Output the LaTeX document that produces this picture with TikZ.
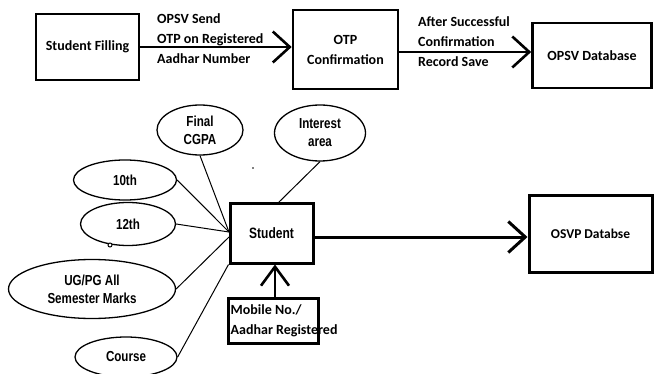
\documentclass[tikz,border=0pt]{standalone}
\usepackage{fontspec}
\setmainfont{Carlito}
\newfontfamily\narrowfont[FakeStretch=0.8]{Liberation Sans}
\usetikzlibrary{arrows.meta,shapes.geometric}

\begin{document}
\begin{tikzpicture}[x=1pt,y=-1pt]
\tikzset{flowbox/.style={draw,line width=2.6pt,minimum width=#1,inner sep=0pt}}
\tikzset{attr/.style={ellipse,draw,line width=1.3pt,inner sep=0pt,align=center,font=\narrowfont\bfseries\fontsize{14.5}{18}\selectfont}}
\tikzset{steptext/.style={anchor=west,align=left,inner sep=0pt,font=\bfseries\fontsize{14}{20}\selectfont}}
\tikzset{flow/.style={line width=2.6pt,-{Straight Barb[length=17pt,width=31pt]}}}
\tikzset{link/.style={line width=1pt}}

\useasboundingbox (0,0) rectangle (655,374);

\node[flowbox=103pt,minimum height=66pt,font=\bfseries\fontsize{14}{20}\selectfont] (filling) at (87.5,47) {Student Filling};
\node[flowbox=105pt,minimum height=79pt,align=center,font=\bfseries\fontsize{14}{20}\selectfont] (otp) at (345.5,49.5) {OTP\\Confirmation};
\node[flowbox=119pt,minimum height=65pt,font=\bfseries\fontsize{14}{20}\selectfont] (opsvdb) at (592,55.5) {OPSV Database\hspace{16pt}};

\node[steptext] (sendlabel) at (157,39) {OPSV Send\\OTP on Registered\\Aadhar Number};
\node[steptext] (savelabel) at (418,42) {After Successful\\Confirmation\\Record Save};

\draw[flow] (filling.east) -- (filling.east -| otp.west);
\draw[flow] ([yshift=-2.5pt]otp.east) -- ([yshift=-2.5pt]otp.east -| opsvdb.west);

\node[attr,minimum width=86pt,minimum height=50pt] (cgpa) at (200,130) {Final\\CGPA};
\node[attr,minimum width=91pt,minimum height=56pt] (interest) at (320,133) {Interest\\area};
\node[attr,minimum width=103pt,minimum height=40pt] (tenth) at (125,180) {10th};
\node[attr,minimum width=95pt,minimum height=43pt] (twelfth) at (128,224) {12th};
\node[attr,minimum width=167pt,minimum height=59pt] (ugpg) at (92,289) {UG/PG All\\Semester Marks};
\node[attr,minimum width=102pt,minimum height=40pt] (course) at (126,357) {Course};

\node[flowbox=83pt,minimum height=60pt,line width=3pt,font=\narrowfont\bfseries\fontsize{15}{18}\selectfont] (student) at (271.5,233) {Student};
\node[flowbox=123pt,minimum height=77pt,line width=3pt,font=\bfseries\fontsize{13.5}{17}\selectfont] (osvpdb) at (590.5,233.5) {OSVP Databse\hspace{22pt}};
\node[flowbox=90pt,minimum height=45pt,line width=3pt] (mobile) at (273,320.5) {};
\node[steptext] (mobiletext) at ([xshift=4pt]mobile.west) {Mobile No./\\Aadhar Registered};

\coordinate (hub) at (229,232);
\draw[link] (cgpa.south) -- (hub);
\draw[link] (tenth.east) -- (hub);
\draw[link] (twelfth.east) -- (hub);
\draw[link] (ugpg.east) -- ([yshift=-5pt]hub);
\draw[link] (course.east) -- (student.south west);
\draw[link] (interest.south) -- (278,203);

\draw[line width=1pt,fill=white] (110,245) circle (2pt);
\fill (253,168) circle (0.9pt);

\draw[flow,line width=3pt] ([yshift=-4pt]student.east) -- ([yshift=-4pt]student.east -| osvpdb.west);
\draw[flow,-{Straight Barb[length=19pt,width=28pt]}] ([xshift=2pt]mobile.north) -- ([xshift=2pt]mobile.north |- student.south);

\end{tikzpicture}
\end{document}
